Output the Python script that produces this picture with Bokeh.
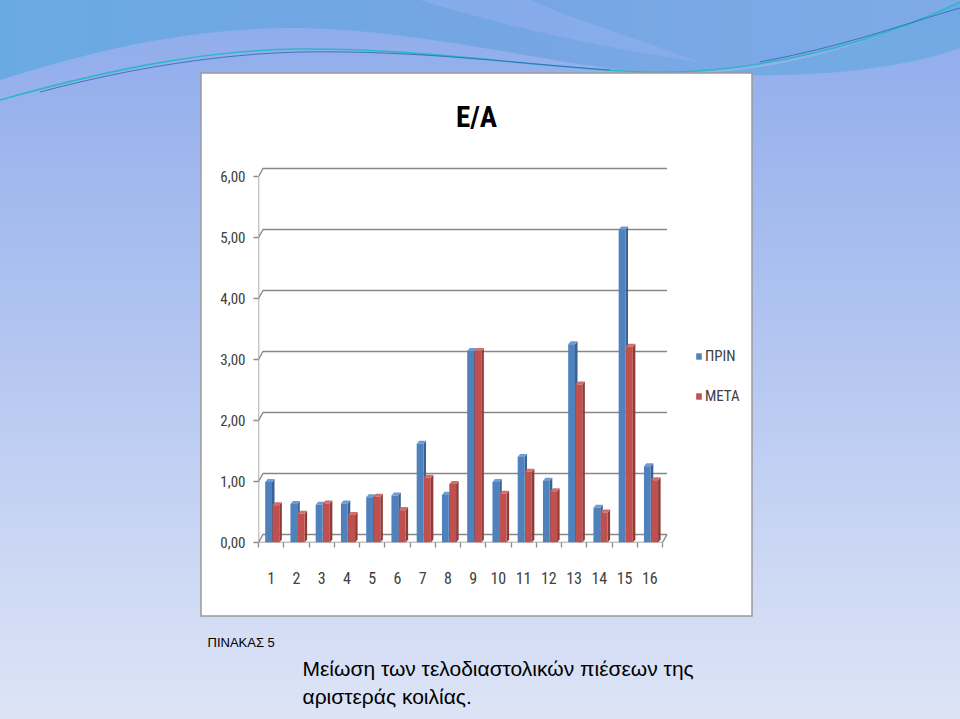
import subprocess
from urllib.parse import quote
from bokeh.plotting import figure
from bokeh.models import (ColumnDataSource, Range1d, FixedTicker, Label, Legend, LegendItem, Title)
from bokeh.transform import dodge
from bokeh.embed import file_html
from bokeh.resources import INLINE

# ---------------- data ----------------
categories = ["1", "2", "3", "4", "5", "6", "7", "8", "9", "10", "11", "12", "13", "14", "15", "16"]
prin = [0.99, 0.63, 0.62, 0.64, 0.74, 0.77, 1.62, 0.78, 3.14, 0.99, 1.40, 1.01, 3.25, 0.57, 5.13, 1.25]
meta = [0.61, 0.47, 0.64, 0.45, 0.75, 0.53, 1.06, 0.96, 3.14, 0.80, 1.16, 0.84, 2.59, 0.49, 3.21, 1.02]
series_names = ["ΠΡΙΝ", "ΜΕΤΑ"]
y_ticks = [0, 1, 2, 3, 4, 5, 6]
y_tick_labels = ["0,00", "1,00", "2,00", "3,00", "4,00", "5,00", "6,00"]
chart_title = "E/A"
table_label = "ΠΙΝΑΚΑΣ 5"
caption_lines = ["Μείωση των τελοδιαστολικών πιέσεων της", "αριστεράς κοιλίας."]

# ---------------- font choice ----------------
try:
    fams = set()
    for ln in subprocess.run(["fc-list", ":", "family"], capture_output=True, text=True).stdout.splitlines():
        for f in ln.split(","):
            fams.add(f.strip())
except Exception:
    fams = set()
cands = ["Roboto Condensed", "Archivo Narrow", "PT Sans Narrow", "Liberation Sans Narrow",
         "DejaVu Sans Condensed"]
present = [c for c in cands if c in fams]
NARROW = present[0] if present else "DejaVu Sans"
SANS = "Liberation Sans"

# ---------------- pixel layout ----------------
W, H = 960, 719
FL, FR, FT, FB = 258, 745, 80, 542          # frame edges
PX_X = 25.25                                  # px per category
PX_Y = 61.0                                   # px per unit
XMIN, YMIN = 0.5, 0.0
XMAX = XMIN + (FR - FL) / PX_X
YMAX = YMIN + (FB - FT) / PX_Y
XEND = 16.5                                   # end of the category axis

def dx(px):
    return XMIN + (px - FL) / PX_X

def dy(py):
    return YMIN + (FB - py) / PX_Y

svg = (
    "<svg xmlns='http://www.w3.org/2000/svg' width='960' height='719' viewBox='0 0 960 719'>"
    "<defs><linearGradient id='g' x1='0' y1='0' x2='0' y2='1'>"
    "<stop offset='0' stop-color='#8dabea'/><stop offset='0.14' stop-color='#98b2ed'/>"
    "<stop offset='1' stop-color='#dde4f6'/></linearGradient>"
    "<linearGradient id='t' x1='0' y1='0' x2='1' y2='0'>"
    "<stop offset='0' stop-color='#6aaae2'/><stop offset='0.5' stop-color='#74a6e3'/>"
    "<stop offset='1' stop-color='#80aae8'/></linearGradient></defs>"
    "<rect x='0' y='0' width='960' height='719' fill='url(#g)'/>"
    "<path d='M0,0 H960 V2 C880,40 760,76 640,72 C540,62 420,30 300,28 C180,27 80,55 0,80 Z' fill='url(#t)'/>"
    "<path d='M420,0 C500,25 600,48 700,62 C640,40 570,18 530,0 Z' fill='#8eaeec' opacity='0.7'/>"
    "<path d='M960,2 C880,40 790,70 700,73 C800,80 900,70 960,48 Z' fill='#6aa9e2' opacity='0.8'/>"
    "<path d='M0,100 C100,72 200,50 300,49 C420,48 520,66 640,72 C760,76 880,40 960,2' "
    "stroke='#2fb8c4' stroke-width='1.6' fill='none'/>"
    "<path d='M40,92 C130,68 220,54 300,52 C420,50 520,64 610,70' stroke='#2d63bb' stroke-width='1' fill='none' opacity='0.8'/>"
    "<path d='M760,62 C850,45 910,22 960,8' stroke='#2d63bb' stroke-width='1' fill='none' opacity='0.8'/>"
    "<rect x='201' y='73' width='551' height='543' fill='white' stroke='#9a9a9a' stroke-width='1.5'/>"
    "</svg>"
)
bg_css = {
    "background-image": 'url("data:image/svg+xml,' + quote(svg, safe="") + '")',
    "background-repeat": "no-repeat",
    "background-size": "960px 719px",
}

p = figure(width=W, height=H, output_backend="svg", toolbar_location=None, title=None,
           x_range=Range1d(XMIN, XMAX), y_range=Range1d(YMIN, YMAX),
           min_border_left=FL, min_border_right=W - FR, min_border_top=FT, min_border_bottom=H - FB,
           styles=bg_css)
p.border_fill_color = None
p.background_fill_color = None
p.outline_line_color = None
p.xgrid.grid_line_color = None
p.ygrid.grid_line_color = None

AX = "#8c8c8c"
p.yaxis.ticker = FixedTicker(ticks=y_ticks)
p.yaxis.major_label_overrides = {t: l for t, l in zip(y_ticks, y_tick_labels)}
p.yaxis.axis_line_color = None
p.yaxis.major_tick_line_color = AX
p.yaxis.major_tick_line_width = 1.3
p.yaxis.major_tick_out = 5
p.yaxis.major_tick_in = 0
p.yaxis.minor_tick_line_color = None
p.yaxis.major_label_standoff = 8
p.yaxis.major_label_text_font = NARROW
p.yaxis.major_label_text_font_size = "15px"
p.yaxis.major_label_text_color = "#404040"

x = list(range(1, len(categories) + 1))
p.xaxis.ticker = FixedTicker(ticks=x, minor_ticks=[i + 0.5 for i in range(0, len(categories) + 1)])
p.xaxis.major_label_overrides = {i: c for i, c in zip(x, categories)}
p.xaxis.axis_line_color = None
p.xaxis.major_tick_line_color = None
p.xaxis.minor_tick_line_color = AX
p.xaxis.minor_tick_line_width = 1.3
p.xaxis.minor_tick_out = 5
p.xaxis.minor_tick_in = 0
p.xaxis.major_label_standoff = 23
p.xaxis.major_label_text_font = NARROW
p.xaxis.major_label_text_font_size = "16px"
p.xaxis.major_label_text_color = "#404040"

# 3D back wall gridlines and floor
WX = 4.5 / PX_X
WY = 8.0 / PX_Y
p.multi_line(xs=[[XMIN, XMIN + WX, XEND + WX] for t in y_ticks],
             ys=[[t, t + WY, t + WY] for t in y_ticks], line_color="#878787", line_width=1.4)
p.segment(x0=[XMIN, XMIN], y0=[0, 0], x1=[XEND, XMIN], y1=[0, max(y_ticks)], line_color=AX, line_width=1.4)
p.segment(x0=[XEND], y0=[0], x1=[XEND + WX], y1=[WY], line_color=AX, line_width=1.4)

# ---------------- 3D-looking bars ----------------
BW = 0.27
BDX = 0.10
BDY = 0.05
offsets = [-0.10, 0.19]
colors = [("#4f81bd", "#3a6194", "#6f9bd3"), ("#c0504d", "#8f3b39", "#d26f6c")]

src = ColumnDataSource(dict(x=x, prin=prin, meta=meta))
front_renderers = []
for vals, key, off, (cf, cs, ct) in zip([prin, meta], ["prin", "meta"], offsets, colors):
    side_xs, side_ys, top_xs, top_ys = [], [], [], []
    for xi, v in zip(x, vals):
        xl = xi + off - BW / 2
        xr = xi + off + BW / 2
        side_xs.append([xr, xr + BDX, xr + BDX, xr])
        side_ys.append([0, BDY, v + BDY, v])
        top_xs.append([xl, xr, xr + BDX, xl + BDX])
        top_ys.append([v, v, v + BDY, v + BDY])
    p.patches(side_xs, side_ys, fill_color=cs, line_color=None)
    p.patches(top_xs, top_ys, fill_color=ct, line_color=None)
    r = p.vbar(x=dodge("x", off, range=p.x_range), top=key, width=BW, bottom=0,
               source=src, fill_color=cf, line_color=None)
    front_renderers.append(r)

legend = Legend(items=[LegendItem(label=n, renderers=[r]) for n, r in zip(series_names, front_renderers)],
                location=(695 - FL, FB - 405), orientation="vertical",
                glyph_width=7, glyph_height=8, label_height=18, spacing=22,
                label_standoff=3, padding=0, margin=0,
                border_line_color=None, background_fill_alpha=0,
                label_text_font=NARROW, label_text_font_size="15px", label_text_color="#404040")
p.add_layout(legend, "center")

p.add_layout(Label(x=dx(476), y=dy(116), text=chart_title, text_align="center", text_baseline="middle",
                   text_font=NARROW, text_font_style="bold", text_font_size="29px", text_color="black"))

# ---------------- texts below the chart ----------------
p.add_layout(Title(text=" ", text_font_size="1px", standoff=39), "below")
p.add_layout(Title(text=table_label, align="left", offset=207 - FL, standoff=9, text_font=SANS,
                   text_font_size="13px", text_font_style="normal", text_color="black"), "below")
for i, line in enumerate(caption_lines):
    p.add_layout(Title(text=line, align="left", offset=302 - FL, standoff=6 * i, text_font=SANS,
                       text_font_size="21px", text_font_style="normal", text_color="black"), "below")

open("out.html", "w").write(file_html(p, INLINE))
